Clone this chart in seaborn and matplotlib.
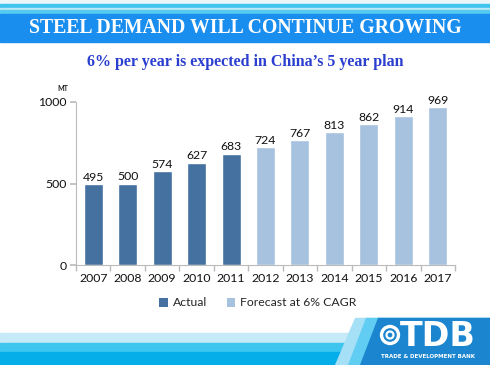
import matplotlib
matplotlib.use("Agg")
import matplotlib.pyplot as plt
import seaborn as sns
import pandas as pd
from matplotlib.patches import Rectangle, Polygon, Circle, Patch

years = ["2007", "2008", "2009", "2010", "2011", "2012", "2013", "2014", "2015", "2016", "2017"]
values = [495, 500, 574, 627, 683, 724, 767, 813, 862, 914, 969]
series = ["Actual"] * 5 + ["Forecast at 6% CAGR"] * 6
colors = {"Actual": "#44719F", "Forecast at 6% CAGR": "#A7C2DE"}

df = pd.DataFrame({"year": years, "value": values, "series": series})

sns.set_theme(style="white")
plt.rcParams["font.family"] = ["Lato", "DejaVu Sans"]

W, H = 490, 365
fig = plt.figure(figsize=(W / 100, H / 100), dpi=100)

ax = fig.add_axes([76 / W, 1 - 265 / H, (455 - 76) / W, (265 - 102) / H])
sns.barplot(data=df, x="year", y="value", hue="series", palette=colors,
            dodge=False, width=0.55, ax=ax, legend=False, saturation=1)
ax.set_ylim(0, 1000)
ax.set_xlim(-0.5, len(years) - 0.5)
ax.set_yticks([0, 500, 1000])
ax.set_xlabel("")
ax.set_ylabel("")
for s in ["top", "right"]:
    ax.spines[s].set_visible(False)
for s in ["left", "bottom"]:
    ax.spines[s].set_color("#BBBBBB")
    ax.spines[s].set_linewidth(0.8)
ax.tick_params(axis="x", length=0, labelsize=8.8, pad=6, colors="#111111")
ax.tick_params(axis="y", length=4, color="#BBBBBB", direction="out", left=True,
               labelsize=8.8, pad=3, colors="#111111")
ax.set_xticks([i - 0.5 for i in range(len(years) + 1)], minor=True)
ax.tick_params(axis="x", which="minor", length=4, color="#BBBBBB", direction="out", bottom=True)
for i, v in enumerate(values):
    ax.text(i, v + 8, str(v), ha="center", va="bottom", fontsize=8.8, color="#111111")
ax.text(-0.02, 1.06, "MT", transform=ax.transAxes, fontsize=5, ha="right",
        va="bottom", color="#222222", fontweight="bold")

handles = [Patch(facecolor=colors[k], edgecolor="none") for k in colors]
fig.legend(handles, list(colors.keys()), loc="center", bbox_to_anchor=(258 / W, 1 - 303 / H),
           ncol=2, frameon=False, fontsize=8.8, handlelength=0.7, handleheight=0.7,
           handletextpad=0.4, columnspacing=1.6)

bg = fig.add_axes([0, 0, 1, 1], zorder=-1)
bg.set_xlim(0, W)
bg.set_ylim(H, 0)
bg.axis("off")
bg.add_patch(Rectangle((0, 0), W, 4, color="#EAF6FA"))
bg.add_patch(Rectangle((0, 4), W, 4, color="#3DC5EE"))
bg.add_patch(Rectangle((0, 8), W, 2, color="#BDE8F7"))
bg.add_patch(Rectangle((0, 10), W, 2.5, color="#55CBEF"))
bg.add_patch(Rectangle((0, 14), W, 28, color="#1A8EEF"))

bg.add_patch(Rectangle((0, 333), W, 10, color="#C6EAF8"))
bg.add_patch(Rectangle((0, 343), W, 9, color="#3FC6EF"))
bg.add_patch(Rectangle((0, 352), W, 13, color="#05AEE8"))
bg.add_patch(Polygon([(355, 318), (W, 318), (W, H), (335, H)], closed=True, color="#A6E0F6"))
bg.add_patch(Polygon([(366, 318), (W, 318), (W, H), (348, H)], closed=True, color="#62CDF2"))
bg.add_patch(Polygon([(378, 318), (W, 318), (W, H), (360, H)], closed=True, color="#1B86CF"))

top = fig.add_axes([0, 0, 1, 1], zorder=5)
top.set_xlim(0, W)
top.set_ylim(H, 0)
top.axis("off")
top.add_patch(Circle((390, 335), 8.5, fill=False, ec="white", lw=2.4))
top.add_patch(Circle((390, 335), 3.5, fill=False, ec="white", lw=1.6))
top.text(438, 336, "TDB", color="white", fontsize=24, fontweight="bold", ha="center",
         va="center", family=["DejaVu Sans"])
top.text(428, 357, "TRADE & DEVELOPMENT BANK", color="white", fontsize=4, fontweight="bold",
         ha="center", va="center", family=["DejaVu Sans"])

fig.text(0.5, 1 - 28 / H, "STEEL DEMAND WILL CONTINUE GROWING", color="white",
         fontsize=14.2, fontweight="bold", ha="center", va="center",
         family=["Liberation Serif", "DejaVu Serif"])
fig.text(0.5, 1 - 62 / H, "6% per year is expected in China\u2019s 5 year plan", color="#2A3ECF",
         fontsize=11.5, fontweight="bold", ha="center", va="center",
         family=["Liberation Serif", "DejaVu Serif"])

fig.savefig("out.png", dpi=100)
